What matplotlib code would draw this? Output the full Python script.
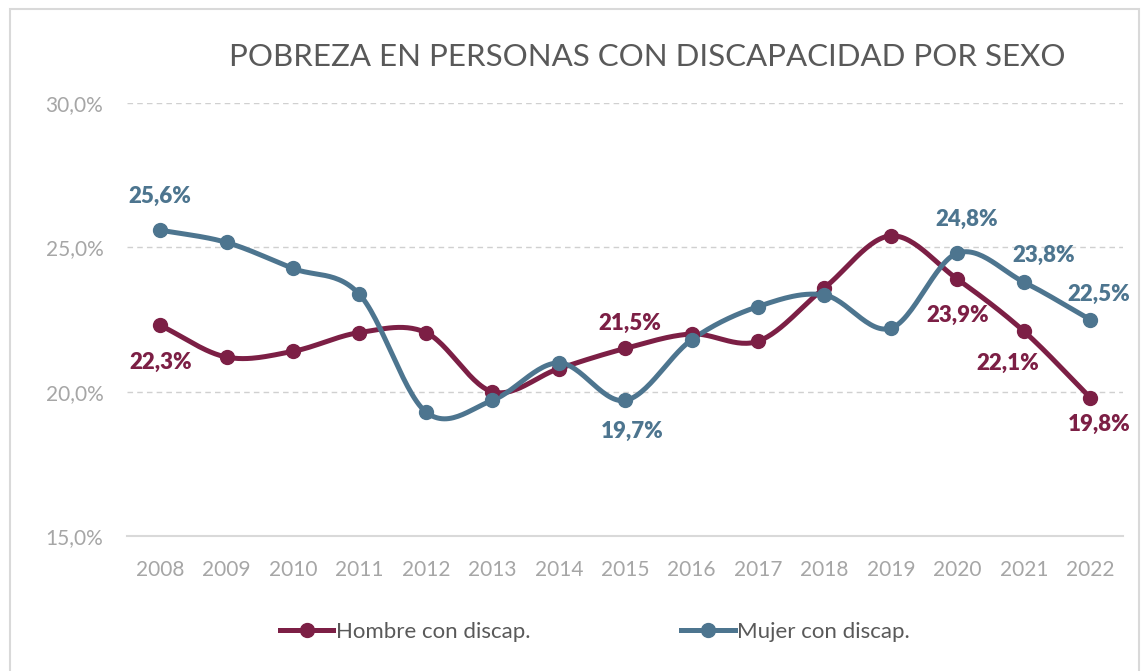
import numpy as np
import matplotlib
matplotlib.use("Agg")
import matplotlib.pyplot as plt
from matplotlib.lines import Line2D

plt.rcParams['font.family'] = ['Lato', 'DejaVu Sans']

years = list(range(2008, 2023))
hombre = [22.3, 21.2, 21.4, 22.05, 22.05, 20.0, 20.8, 21.5, 22.0, 21.75, 23.6, 25.4, 23.9, 22.1, 19.8]
mujer = [25.6, 25.17, 24.27, 23.37, 19.3, 19.7, 21.0, 19.7, 21.8, 22.95, 23.35, 22.2, 24.8, 23.8, 22.5]

# labelled points: year index -> label offset in points
labels_h = {0: (0, -26.5), 7: (3.5, 18), 12: (0, -26), 13: (-11.5, -23), 14: (6.5, -19)}
labels_m = {0: (0, 24), 7: (5, -22.5), 12: (6.5, 24), 13: (14, 19), 14: (6.5, 18)}

c_h = '#7C1F45'
c_m = '#4D758F'


def smooth(xs, ys, n=30):
    # catmull-rom style curve through the points, like excel smoothed lines
    xs = np.asarray(xs, float)
    ys = np.asarray(ys, float)
    px = np.concatenate([[2 * xs[0] - xs[1]], xs, [2 * xs[-1] - xs[-2]]])
    py = np.concatenate([[2 * ys[0] - ys[1]], ys, [2 * ys[-1] - ys[-2]]])
    ox, oy = [], []
    t = np.linspace(0, 1, n)
    for i in range(1, len(px) - 2):
        for arr, out in ((px, ox), (py, oy)):
            p0, p1, p2, p3 = arr[i - 1], arr[i], arr[i + 1], arr[i + 2]
            b1 = p1 + (p2 - p0) / 6
            b2 = p2 - (p3 - p1) / 6
            out.extend((1 - t) ** 3 * p1 + 3 * (1 - t) ** 2 * t * b1 + 3 * (1 - t) * t ** 2 * b2 + t ** 3 * p2)
    return ox, oy


fig = plt.figure(figsize=(11.44, 6.71), dpi=100)
ax = fig.add_axes([0.111, 0.201, 0.871, 0.6455])

for vals, col in ((hombre, c_h), (mujer, c_m)):
    sx, sy = smooth(years, vals)
    ax.plot(sx, sy, color=col, lw=3.6, solid_capstyle='round', zorder=3)
    ax.plot(years, vals, 'o', color=col, ms=10, zorder=4)

for vals, col, labs in ((hombre, c_h, labels_h), (mujer, c_m, labels_m)):
    for i, off in labs.items():
        ax.annotate(f"{vals[i]:.1f}%".replace('.', ','), (years[i], vals[i]),
                    xytext=off, textcoords='offset points', ha='center', va='center',
                    color=col, fontsize=16, fontweight='heavy', zorder=5)

ax.set_xlim(2007.5, 2022.5)
ax.set_ylim(15, 30)
ax.set_yticks([15, 20, 25, 30])
ax.set_yticklabels(['15,0%', '20,0%', '25,0%', '30,0%'])
ax.set_xticks(years)
ax.set_xticklabels([str(y) for y in years])
ax.tick_params(length=0, colors='#A6A6A6', labelsize=15)
ax.tick_params(axis='x', pad=17)
ax.tick_params(axis='y', pad=17)
for y in [20, 25, 30]:
    ax.axhline(y, color='#D0D0D0', lw=1, ls=(0, (4, 3)), zorder=1)
for s in ['top', 'right', 'left']:
    ax.spines[s].set_visible(False)
ax.spines['bottom'].set_color('#D9D9D9')
ax.spines['bottom'].set_linewidth(1.5)

fig.text(0.566, 0.915, 'POBREZA EN PERSONAS CON DISCAPACIDAD POR SEXO',
         ha='center', va='center', fontsize=22.5, color='#595959')

handles = [Line2D([], [], color=c_h, lw=3.6, marker='o', ms=10),
           Line2D([], [], color=c_m, lw=3.6, marker='o', ms=10)]
fig.legend(handles, ['Hombre con discap.', 'Mujer con discap.'],
           loc='center', bbox_to_anchor=(0.52, 0.058), ncol=2, frameon=False,
           fontsize=16, handlelength=2.4, handletextpad=0.1, columnspacing=6.8,
           labelcolor='#595959')

# outer chart border
fig.patches.append(plt.Rectangle((0.009, -0.01), 0.987, 0.997, transform=fig.transFigure,
                                 fill=False, edgecolor='#D9D9D9', lw=1.5))

fig.savefig('out.png', dpi=100)
